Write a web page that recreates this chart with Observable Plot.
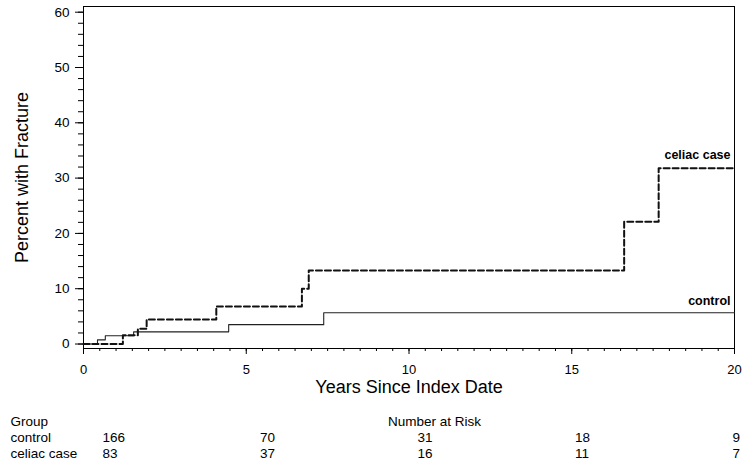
<!DOCTYPE html>
<html>
<head>
<meta charset="utf-8">
<script src="https://cdn.jsdelivr.net/npm/d3@7"></script>
<script src="https://cdn.jsdelivr.net/npm/@observablehq/plot@0.6"></script>
<style>
  html, body { margin: 0; padding: 0; background: #fff; }
  #chart svg { display: block; }
</style>
</head>
<body>
<div id="chart"></div>
<script>
// Kaplan-Meier style cumulative fracture curves (step-after)
const controlTimes  = [0, 0.43, 0.67, 1.54, 4.46, 7.38, 20];
const controlValues = [0, 0.75, 1.5, 2.2, 3.5, 5.65, 5.65];
const celiacTimes   = [0, 1.21, 1.67, 1.94, 4.08, 6.71, 6.92, 16.61, 17.67, 20];
const celiacValues  = [0, 1.6, 2.75, 4.45, 6.8, 10.0, 13.3, 22.1, 31.8, 31.8];
const seriesNames   = ["control", "celiac case"];

// Number at risk table
const riskTimes   = [0, 5, 10, 15, 20];
const riskControl = [166, 70, 31, 18, 9];
const riskCeliac  = [83, 37, 16, 11, 7];

const xMajor = [0, 5, 10, 15, 20];
const yMajor = [0, 10, 20, 30, 40, 50, 60];

const font = "'Liberation Sans', Arial, Helvetica, sans-serif";

const control = controlTimes.map((t, i) => ({t, v: controlValues[i], g: seriesNames[0]}));
const celiac  = celiacTimes.map((t, i) => ({t, v: celiacValues[i], g: seriesNames[1]}));
const controlEnd = [control[control.length - 1]];
const celiacEnd = [celiac[celiac.length - 1]];

const main = Plot.plot({
  width: 750,
  height: 400,
  marginLeft: 83,
  marginRight: 16,
  marginTop: 6,
  marginBottom: 52,
  style: {fontFamily: font, fontSize: "13px", color: "#000", background: "#fff"},
  x: {domain: [0, 20]},
  y: {domain: [-0.81, 61.03]},
  marks: [
    Plot.frame({stroke: "#000", strokeWidth: 1}),
    Plot.axisX({ticks: d3.range(0, 20.01, 0.5), tickSize: 3, tickFormat: () => "", label: null, strokeWidth: 1}),
    Plot.axisX({ticks: xMajor, tickSize: 6, tickPadding: 10, tickFormat: d => d, label: null, fontSize: 13, strokeWidth: 1}),
    Plot.axisY({ticks: d3.range(0, 60.01, 2), tickSize: 5, tickFormat: () => "", label: null, strokeWidth: 1}),
    Plot.axisY({ticks: yMajor, tickSize: 8, tickPadding: 6, tickFormat: d => d, label: null, fontSize: 13.5, strokeWidth: 1}),
    Plot.line(control, {x: "t", y: "v", curve: "step-after", stroke: "#222", strokeWidth: 1.1}),
    Plot.line(celiac, {x: "t", y: "v", curve: "step-after", stroke: "#111", strokeWidth: 2, strokeDasharray: "6,3"}),
    Plot.text(controlEnd, {x: "t", y: "v", text: "g", textAnchor: "end", dx: -4, dy: -12,
      fontWeight: "bold", fontSize: 12.5, fill: "#000"}),
    Plot.text(celiacEnd, {x: "t", y: "v", text: "g", textAnchor: "end", dx: -4, dy: -13.5,
      fontWeight: "bold", fontSize: 12.5, fill: "#000"}),
    Plot.text(["Years Since Index Date"], {frameAnchor: "bottom", lineAnchor: "middle", dy: 39, fontSize: 18, fill: "#000"}),
    Plot.text(["Percent with Fracture"], {frameAnchor: "left", textAnchor: "middle", lineAnchor: "middle", dx: -61, rotate: -90, fontSize: 18, fill: "#000"})
  ]
});

// Number at risk table as a second plot beneath
const rows = ["header", ...seriesNames];
const riskCells = [
  ...riskTimes.map((t, i) => ({t, row: seriesNames[0], n: riskControl[i]})),
  ...riskTimes.map((t, i) => ({t, row: seriesNames[1], n: riskCeliac[i]}))
];

const table = Plot.plot({
  width: 750,
  height: 69,
  marginLeft: 10,
  marginRight: 0,
  marginTop: 0,
  marginBottom: 0,
  style: {fontFamily: font, fontSize: "13.5px", color: "#000", background: "#fff"},
  x: {type: "linear", domain: [0, 20], range: [102, 732], axis: null},
  y: {type: "point", domain: rows, range: [20, 53], padding: 0, axis: null},
  marks: [
    Plot.text(["Group"], {y: () => "header", frameAnchor: "left", textAnchor: "start", fontSize: 13.5, fill: "#000"}),
    Plot.text(seriesNames, {y: d => d, text: d => d, frameAnchor: "left", textAnchor: "start", fontSize: 13.5, fill: "#000"}),
    Plot.text(["Number at Risk"], {x: () => 10, y: () => "header", textAnchor: "middle", dx: 17, fontSize: 13.5, fill: "#000"}),
    Plot.text(riskCells, {x: "t", y: "row", text: "n", textAnchor: "start", fontSize: 13.5, fill: "#000"})
  ]
});

const el = document.getElementById("chart");
el.appendChild(main);
el.appendChild(table);
</script>
</body>
</html>
